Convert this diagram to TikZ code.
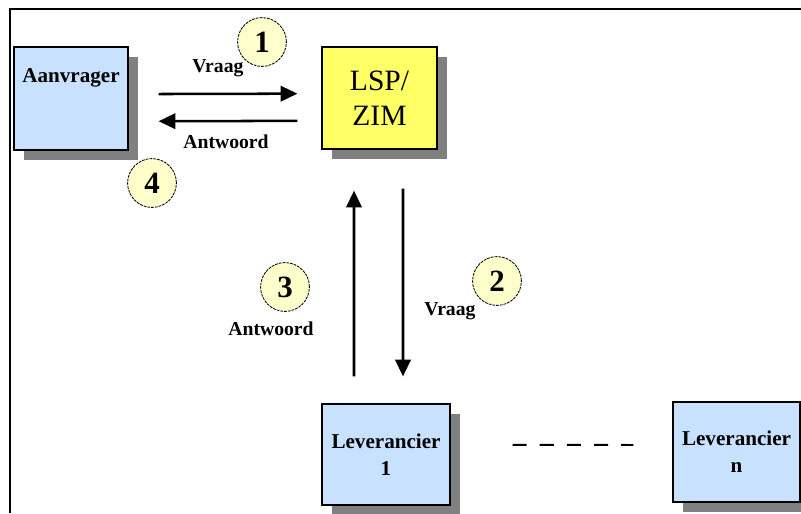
\documentclass[tikz,border=0pt]{standalone}
\usepackage{fontspec}
\setmainfont{Liberation Serif}
\usetikzlibrary{arrows.meta,shadows}

\definecolor{boxblue}{RGB}{200,225,255}
\definecolor{boxyellow}{RGB}{255,255,102}
\definecolor{stepyellow}{RGB}{255,255,204}
\definecolor{shadowgray}{RGB}{128,128,128}

\begin{document}
\begin{tikzpicture}[x=0.025cm,y=-0.025cm,
  party/.style={draw,line width=0.8pt,fill=boxblue,align=center,inner sep=0.1cm,
    font=\fontsize{15}{19}\selectfont\bfseries,
    drop shadow={shadow xshift=0.25cm,shadow yshift=-0.25cm,fill=shadowgray,opacity=1}},
  stepnr/.style={circle,draw,dash pattern=on 2pt off 0.7pt,line width=0.6pt,fill=stepyellow,
    minimum size=1.22cm,inner sep=0pt,font=\fontsize{22}{22}\selectfont\bfseries},
  msg/.style={font=\fontsize{14}{16}\selectfont\bfseries},
  flow/.style={line width=1.8pt,-{Triangle[length=12pt,width=11pt]}}]

\useasboundingbox (0,0) rectangle (801,513);

% frame
\draw[line width=1.3pt] (10,513) -- (10,9) -- (801,9);

\node[party,minimum width=2.85cm,minimum height=2.575cm,text height=0.8cm,text depth=1.575cm]
  (aanvrager) at (71,98.5) {Aanvrager};
\node[party,fill=boxyellow,minimum width=2.875cm,minimum height=2.55cm,
  font=\fontsize{21}{25}\selectfont] (lsp) at (379.5,98) {LSP/\\ZIM};
\node[party,minimum width=3.2cm,minimum height=2.525cm] (lev1) at (386,454.5) {Leverancier\\1};
\node[party,minimum width=3.175cm,minimum height=2.5cm] (levn) at (736.5,452) {Leverancier\\n};

% request and answer between the parties
\draw[flow,shorten <=0.75cm,shorten >=0.6cm] ([yshift=0.11cm]aanvrager.east) -- ([yshift=0.11cm]lsp.west);
\draw[flow,shorten <=0.6cm,shorten >=0.75cm] ([yshift=-0.57cm]lsp.west) -- ([yshift=-0.57cm]aanvrager.east);
\draw[flow,shorten <=0.975cm,shorten >=0.675cm] ([xshift=0.5875cm]lsp.south) -- ([xshift=0.425cm]lev1.north);
\draw[flow,shorten <=0.675cm,shorten >=1.025cm] ([xshift=-0.8cm]lev1.north) -- ([xshift=-0.6375cm]lsp.south);

\draw[line width=1.4pt,dash pattern=on 10pt off 9.3pt,shorten <=1.55cm,shorten >=0.975cm]
  ([yshift=0.24cm]lev1.east) -- ([yshift=0.175cm]levn.west);

\node[msg] (vraag1) at (218,68) {Vraag};
\node[msg] (antw1) at (226,142) {Antwoord};
\node[msg] (antw2) at (271,329) {Antwoord};
\node[msg] (vraag2) at (450,311) {Vraag};

\node[stepnr] (s1) at (262,42) {1};
\node[stepnr] (s2) at (497,281) {2};
\node[stepnr] (s3) at (285,287) {3};
\node[stepnr] (s4) at (152,183) {4};

\end{tikzpicture}
\end{document}
